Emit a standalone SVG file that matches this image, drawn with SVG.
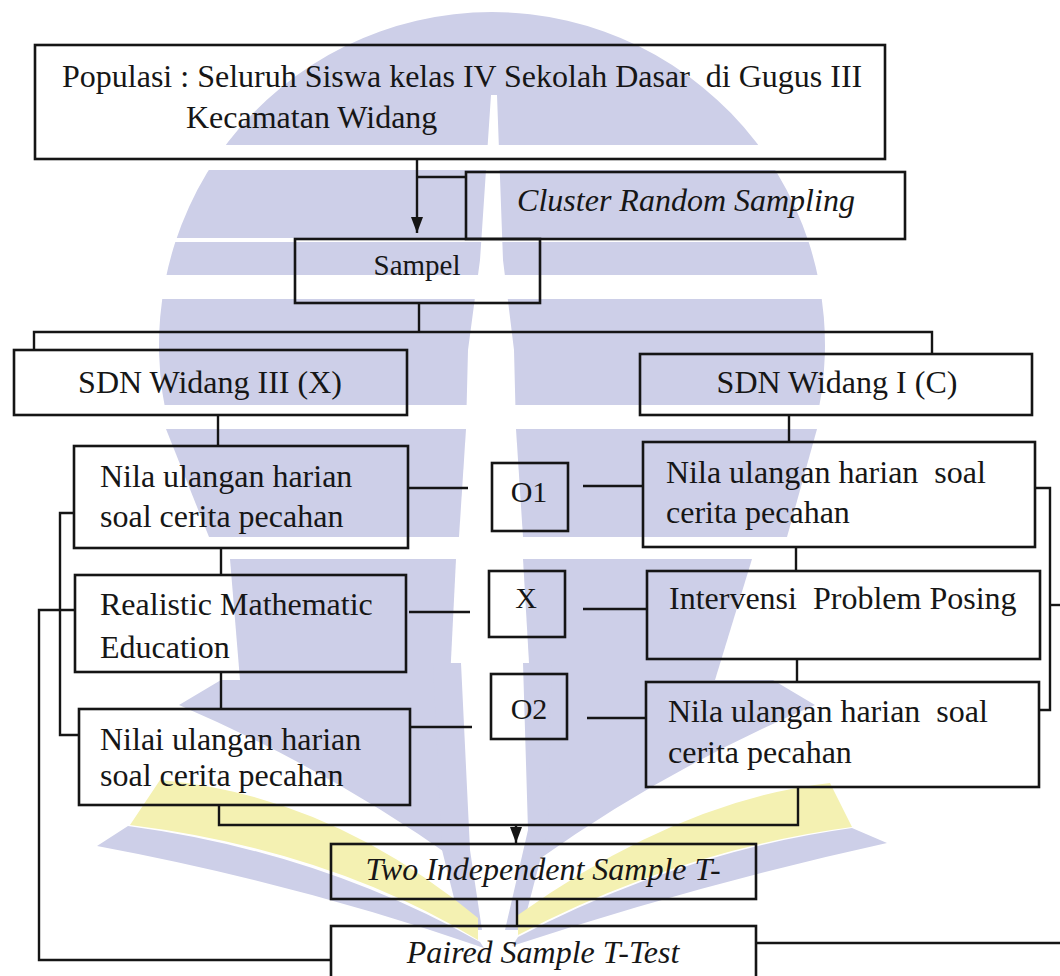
<svg xmlns="http://www.w3.org/2000/svg" width="1060" height="976" viewBox="0 0 1060 976">
<style>
.box{fill:none;stroke:#151515;stroke-width:2.6}
.ln{fill:none;stroke:#151515;stroke-width:2.4}
.t{font-family:"Liberation Serif","Times New Roman",serif;font-size:32px;fill:#161616}
.i{font-style:italic}
.c{text-anchor:middle}
.wm{fill:#cdcfe8}
.wy{fill:#f4f1b2}
.wh{fill:#ffffff}
</style>
<defs>
<marker id="ah" viewBox="0 0 16 12" refX="16" refY="6" markerWidth="16" markerHeight="12" markerUnits="userSpaceOnUse" orient="auto">
<path d="M0,0 L16,6 L0,12 Z" fill="#151515"/>
</marker>
</defs>
<rect width="1060" height="976" fill="#ffffff"/>
<g id="watermark">
<path class="wm" d="M170,430 A333,333 0 1 1 814,430 Z"/>
<polygon class="wh" points="491,95 497,95 503,260 514,350 516,430 466,430 468,350 480,260"/>
<rect class="wh" x="0" y="145" width="1060" height="25"/>
<rect class="wh" x="0" y="238" width="1060" height="4"/>
<rect class="wh" x="0" y="275" width="1060" height="24"/>
<rect class="wh" x="0" y="405" width="1060" height="24"/>
<polygon class="wm" points="166,429 466,429 459,537 209,537"/>
<polygon class="wm" points="516,429 817,429 787,537 523,537"/>
<polygon class="wm" points="230,559 456,559 450,680 240,680"/>
<polygon class="wm" points="523,559 752,559 715,680 530,680"/>
<path class="wm" d="M221,680 L450,680 L456,860 Q330,770 179,705 Z"/>
<path class="wm" d="M773,680 L544,680 L538,860 Q664,770 815,705 Z"/>
<polygon class="wm" points="433,663 461,663 470,850 482,930 462,930 442,850"/>
<polygon class="wm" points="523,663 552,663 548,830 522,930 505,930 528,830"/>
<path class="wy" d="M160,780 Q330,795 478,918 L478,940 Q330,850 130,825 Z"/>
<path class="wm" d="M128,826 Q320,852 480,942 L484,948 Q300,884 97,846 Z"/>
<path class="wy" d="M830,783 Q680,800 518,915 L518,935 Q680,850 852,827 Z"/>
<path class="wm" d="M852,828 Q680,852 518,937 L512,946 Q700,884 887,843 Z"/>
</g>
<g id="connectors">
<line class="ln" x1="417" y1="159" x2="417" y2="233" marker-end="url(#ah)"/>
<line class="ln" x1="417" y1="177" x2="466" y2="177"/>
<polyline class="ln" points="419,303 419,332"/>
<polyline class="ln" points="34,350 34,332 932,332 932,354"/>
<line class="ln" x1="218" y1="415" x2="218" y2="446"/>
<line class="ln" x1="789" y1="415" x2="789" y2="442"/>
<line class="ln" x1="408" y1="488" x2="468" y2="488"/>
<line class="ln" x1="583" y1="486" x2="643" y2="486"/>
<line class="ln" x1="221" y1="548" x2="221" y2="575"/>
<line class="ln" x1="796" y1="547" x2="796" y2="571"/>
<line class="ln" x1="409" y1="612" x2="470" y2="612"/>
<line class="ln" x1="583" y1="609" x2="647" y2="609"/>
<line class="ln" x1="221" y1="672" x2="221" y2="709"/>
<line class="ln" x1="797" y1="659" x2="797" y2="682"/>
<line class="ln" x1="410" y1="727" x2="472" y2="727"/>
<line class="ln" x1="587" y1="718" x2="646" y2="718"/>
<polyline class="ln" points="74,513 60,513 60,735 79,735"/>
<polyline class="ln" points="75,610 39,610 39,960 331,960"/>
<polyline class="ln" points="1035,488 1050,488 1050,710 1039,710"/>
<line class="ln" x1="1050" y1="605" x2="1060" y2="605"/>
<polyline class="ln" points="219,805 219,825 798,825 798,787"/>
<line class="ln" x1="516" y1="825" x2="516" y2="843" marker-end="url(#ah)"/>
<line class="ln" x1="517" y1="899" x2="517" y2="926"/>
<line class="ln" x1="756" y1="943" x2="1060" y2="943"/>
</g>
<g id="n-populasi">
<rect class="box" x="35" y="45" width="850" height="114"/>
<text class="t" x="62" y="87" xml:space="preserve">Populasi : Seluruh Siswa kelas IV Sekolah Dasar  di Gugus III</text>
<text class="t" x="186" y="128">Kecamatan Widang</text>
</g>
<g id="n-cluster">
<rect class="box" x="466" y="172" width="439" height="67"/>
<text class="t i c" x="686" y="211">Cluster Random Sampling</text>
</g>
<g id="n-sampel">
<rect class="box" x="295" y="239" width="245" height="64"/>
<text class="t c" x="417" y="275" style="font-size:29px">Sampel</text>
</g>
<g id="n-sdn3">
<rect class="box" x="14" y="350" width="393" height="65"/>
<text class="t c" x="210" y="393">SDN Widang III (X)</text>
</g>
<g id="n-sdn1">
<rect class="box" x="640" y="354" width="392" height="61"/>
<text class="t c" x="837" y="393">SDN Widang I (C)</text>
</g>
<g id="n-nila-l1">
<rect class="box" x="74" y="446" width="334" height="102"/>
<text class="t" x="100" y="487">Nila ulangan harian</text>
<text class="t" x="100" y="527">soal cerita pecahan</text>
</g>
<g id="n-o1">
<rect class="box" x="492" y="463" width="76" height="68"/>
<text class="t c" x="529" y="502" style="font-size:30px">O1</text>
</g>
<g id="n-nila-r1">
<rect class="box" x="643" y="442" width="392" height="105"/>
<text class="t" x="666" y="483" xml:space="preserve">Nila ulangan harian  soal</text>
<text class="t" x="666" y="523">cerita pecahan</text>
</g>
<g id="n-realistic">
<rect class="box" x="75" y="575" width="331" height="97"/>
<text class="t" x="100" y="615">Realistic Mathematic</text>
<text class="t" x="100" y="658">Education</text>
</g>
<g id="n-x">
<rect class="box" x="489" y="571" width="76" height="66"/>
<text class="t c" x="526" y="608" style="font-size:30px">X</text>
</g>
<g id="n-intervensi">
<rect class="box" x="647" y="571" width="393" height="88"/>
<text class="t" x="669" y="609" xml:space="preserve">Intervensi  Problem Posing</text>
</g>
<g id="n-o2">
<rect class="box" x="491" y="674" width="76" height="65"/>
<text class="t c" x="529" y="719" style="font-size:30px">O2</text>
</g>
<g id="n-nilai-l2">
<rect class="box" x="79" y="709" width="331" height="96"/>
<text class="t" x="100" y="750">Nilai ulangan harian</text>
<text class="t" x="100" y="786">soal cerita pecahan</text>
</g>
<g id="n-nila-r2">
<rect class="box" x="646" y="682" width="393" height="105"/>
<text class="t" x="668" y="722" xml:space="preserve">Nila ulangan harian  soal</text>
<text class="t" x="668" y="763">cerita pecahan</text>
</g>
<g id="n-two">
<rect class="box" x="331" y="844" width="425" height="55"/>
<text class="t i c" x="543" y="880">Two Independent Sample T-</text>
</g>
<g id="n-paired">
<rect class="box" x="331" y="926" width="425" height="70"/>
<text class="t i c" x="543" y="963">Paired Sample T-Test</text>
</g>
</svg>
